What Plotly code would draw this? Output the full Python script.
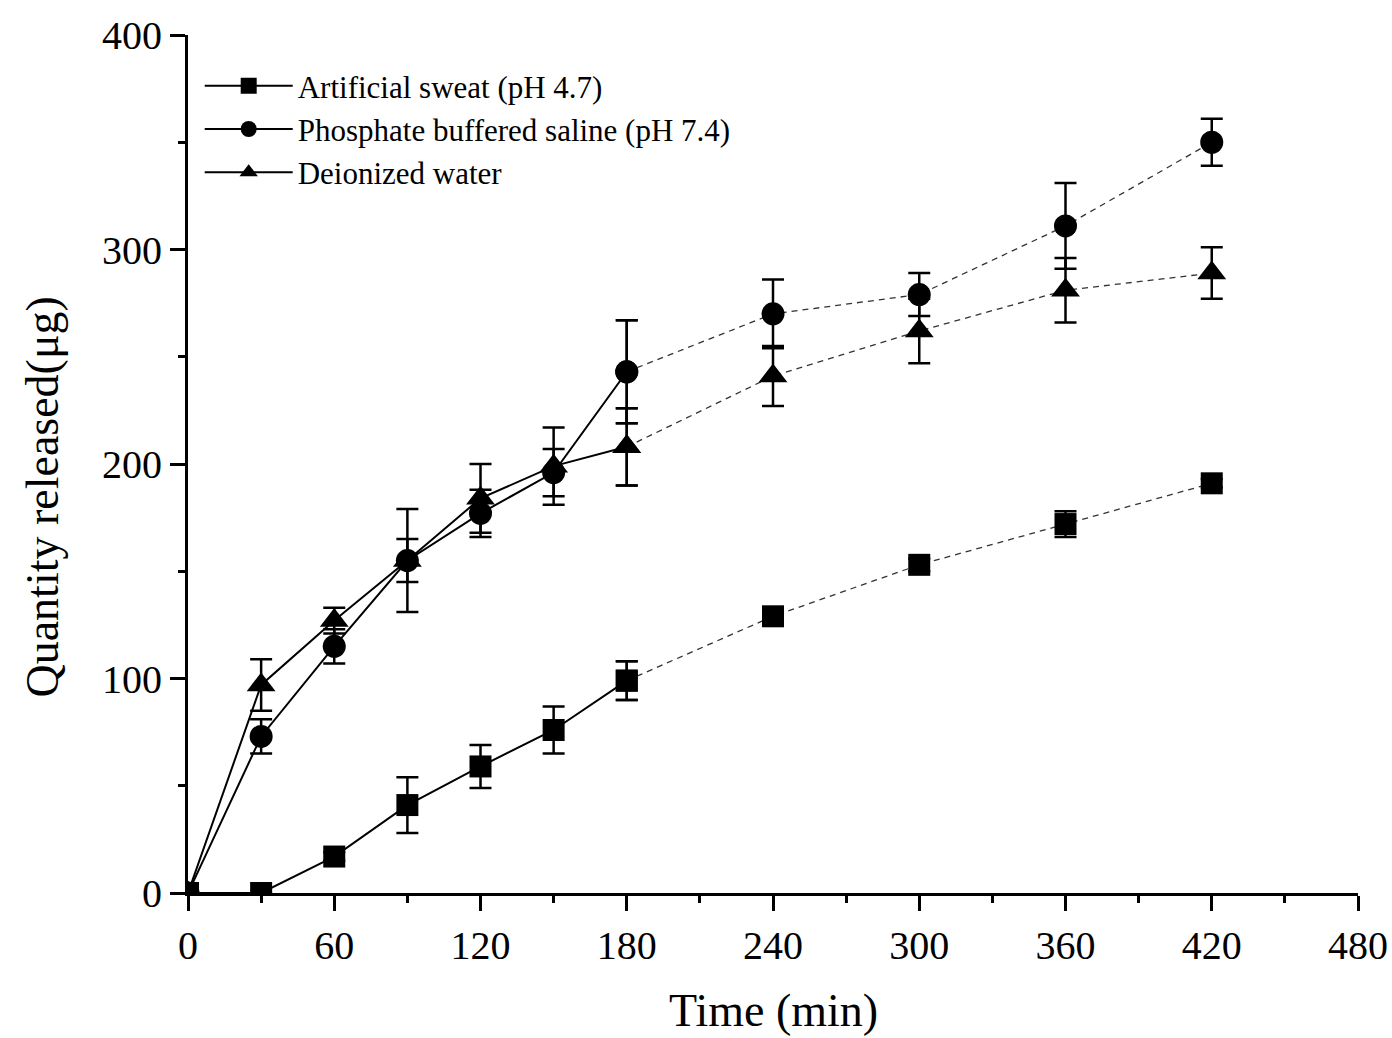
import plotly.graph_objects as go

time_min = [0, 30, 60, 90, 120, 150, 180, 240, 300, 360, 420]

sweat = [0, 0, 17, 41, 59, 76, 99, 129, 153, 172, 191]
sweat_err = [0, 0, 2, 13, 10, 11, 9, 3, 3, 6, 2]

pbs = [0, 73, 115, 155, 177, 196, 243, 270, 279, 311, 350]
pbs_err = [0, 8, 8, 10, 11, 11, 24, 16, 10, 20, 11]

water = [0, 97, 127, 155, 184, 199, 208, 241, 262, 281, 289]
water_err = [0, 12, 6, 24, 16, 18, 18, 14, 15, 15, 12]

series_names = ["Artificial sweat (pH 4.7)",
                "Phosphate buffered saline (pH 7.4)",
                "Deionized water"]
series_vals = [sweat, pbs, water]
series_errs = [sweat_err, pbs_err, water_err]
symbols = ["square", "circle", "triangle-up"]
sizes = [22, 23, 25]

SPLIT = 6  # index of 180 min: solid before, dashed after

fig = go.Figure()
for name, vals, errs, sym, sz in zip(series_names, series_vals, series_errs, symbols, sizes):
    fig.add_trace(go.Scatter(
        x=time_min[:SPLIT + 1], y=vals[:SPLIT + 1], name=name,
        mode="lines+markers",
        line=dict(color="black", width=2),
        marker=dict(symbol=sym, size=sz, color="black"),
        error_y=dict(type="data", array=errs[:SPLIT + 1], visible=True,
                     color="black", thickness=2.5, width=11),
        showlegend=True,
    ))
    fig.add_trace(go.Scatter(
        x=time_min[SPLIT:], y=vals[SPLIT:], name=name,
        mode="lines+markers",
        line=dict(color="#333333", width=1.3, dash="6px,5px"),
        marker=dict(symbol=sym, size=sz, color="black"),
        error_y=dict(type="data", array=errs[SPLIT:], visible=True,
                     color="black", thickness=2.5, width=11),
        showlegend=False,
    ))

font_family = "Liberation Serif, Times New Roman, serif"

fig.update_layout(
    width=1392, height=1038,
    margin=dict(l=188, r=34, t=35, b=145),
    paper_bgcolor="white", plot_bgcolor="white",
    font=dict(family=font_family, color="black"),
    showlegend=True,
    legend=dict(
        x=0.01, y=0.972, xanchor="left", yanchor="top",
        font=dict(size=31, family=font_family, color="black"),
        bgcolor="rgba(0,0,0,0)", borderwidth=0,
        itemwidth=88, tracegroupgap=0,
    ),
    annotations=[
        dict(
            text="Quantity released(μg)", textangle=-90,
            xref="paper", yref="paper", x=-0.124, y=0.462,
            xanchor="center", yanchor="middle", showarrow=False,
            font=dict(size=46, family=font_family, color="black"),
        ),
        dict(
            text="Time (min)",
            xref="paper", yref="paper", x=0.5, y=-0.137,
            xanchor="center", yanchor="middle", showarrow=False,
            font=dict(size=46, family=font_family, color="black"),
        ),
    ],
)

fig.update_xaxes(
    range=[0, 480], tickvals=[0, 60, 120, 180, 240, 300, 360, 420, 480],
    ticks="outside", ticklen=15, tickwidth=3, tickcolor="black",
    minor=dict(dtick=30, tick0=0, ticks="outside", ticklen=7, tickwidth=3, tickcolor="black"),
    showline=True, linecolor="black", linewidth=3, mirror=False,
    showgrid=False, zeroline=False, automargin=False,
    tickfont=dict(size=40, family=font_family, color="black"),
)
fig.update_yaxes(
    range=[0, 400], tickvals=[0, 100, 200, 300, 400],
    ticks="outside", ticklen=15, tickwidth=3, tickcolor="black",
    minor=dict(dtick=50, tick0=0, ticks="outside", ticklen=7, tickwidth=3, tickcolor="black"),
    showline=True, linecolor="black", linewidth=3, mirror=False,
    showgrid=False, zeroline=False, automargin=False,
    tickfont=dict(size=40, family=font_family, color="black"),
)

fig.write_html("out.html")
